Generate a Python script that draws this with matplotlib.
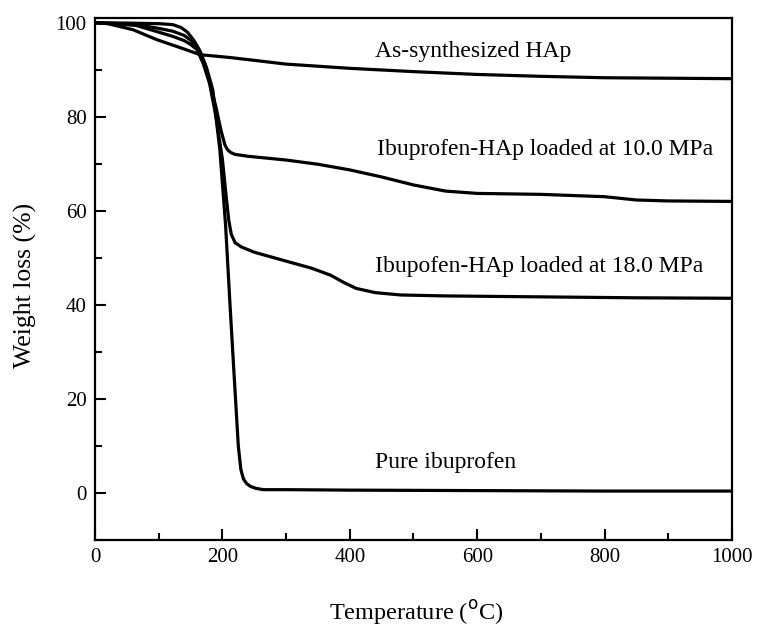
import matplotlib
matplotlib.use("Agg")
import matplotlib.pyplot as plt
from matplotlib.ticker import MultipleLocator

plt.rcParams['font.family'] = ['Liberation Serif', 'DejaVu Serif']

# As-synthesized HAp
hap_T = [0, 20, 60, 97, 138, 165, 212, 250, 300, 400, 500, 600, 700, 800, 900, 1000]
hap_W = [100, 99.8, 98.5, 96.4, 94.5, 93.2, 92.6, 92.0, 91.2, 90.3, 89.6, 89.0, 88.6, 88.3, 88.2, 88.1]

# Ibuprofen-HAp loaded at 10.0 MPa
m10_T = [0, 40, 65, 100, 122, 140, 150, 160, 170, 180, 190, 198, 204, 208, 213, 220, 240, 300, 350, 400, 450, 500, 550, 600, 700, 800, 850, 900, 1000]
m10_W = [100, 99.8, 99.6, 98.8, 98.2, 97.3, 96.3, 94.8, 91.8, 87.5, 82.0, 77.0, 74.0, 73.0, 72.4, 72.0, 71.6, 70.8, 69.9, 68.7, 67.2, 65.5, 64.2, 63.7, 63.5, 63.0, 62.3, 62.1, 62.0]

# Ibupofen-HAp loaded at 18.0 MPa
m18_T = [0, 40, 65, 100, 122, 140, 150, 160, 170, 180, 190, 200, 206, 210, 214, 220, 230, 250, 300, 340, 370, 390, 410, 440, 480, 550, 700, 850, 1000]
m18_W = [100, 99.7, 99.4, 98.0, 97.1, 96.2, 95.4, 94.3, 91.3, 87.0, 80.0, 71.0, 63.0, 58.0, 55.0, 53.2, 52.3, 51.2, 49.3, 47.8, 46.3, 44.8, 43.5, 42.6, 42.1, 41.9, 41.7, 41.5, 41.4]

# Pure ibuprofen
pure_T = [0, 60, 100, 122, 135, 145, 155, 165, 175, 185, 196, 205, 212, 218, 225, 229, 233, 238, 244, 252, 264, 300, 400, 600, 800, 1000]
pure_W = [100, 99.9, 99.8, 99.6, 99.0, 98.0, 96.3, 94.0, 90.5, 85.7, 73.0, 57.0, 40.0, 26.0, 10.0, 5.0, 3.0, 2.0, 1.4, 1.0, 0.7, 0.7, 0.6, 0.5, 0.4, 0.4]

labels = ["As-synthesized HAp", "Ibuprofen-HAp loaded at 10.0 MPa",
          "Ibupofen-HAp loaded at 18.0 MPa", "Pure ibuprofen"]
label_T = [440, 443, 440, 440]
label_W = [92.8, 71.9, 47.0, 5.3]

fig = plt.figure(figsize=(7.61, 6.30), dpi=100)
ax = fig.add_axes([0.1248, 0.1429, 0.9619 - 0.1248, 0.9714 - 0.1429])

for T, W in [(hap_T, hap_W), (m10_T, m10_W), (m18_T, m18_W), (pure_T, pure_W)]:
    ax.plot(T, W, color='black', lw=2.3, solid_joinstyle='round', solid_capstyle='round')

for s, t, w in zip(labels, label_T, label_W):
    ax.text(t, w, s, fontsize=17, ha='left', va='baseline')

ax.set_xlim(0, 1000)
ax.set_ylim(-10, 101)
ax.xaxis.set_major_locator(MultipleLocator(200))
ax.xaxis.set_minor_locator(MultipleLocator(100))
ax.yaxis.set_minor_locator(MultipleLocator(10))
ax.set_yticks([0, 20, 40, 60, 80, 100])
ax.tick_params(which='both', direction='in', top=False, right=False, labelsize=15, width=1.5)
ax.tick_params(which='major', length=8, pad=6)
ax.tick_params(which='minor', length=5)
for sp in ax.spines.values():
    sp.set_linewidth(1.6)

ax.set_xlabel("Temperature ($^{\\mathrm{o}}$C)", fontsize=17.5, va='top')
ax.xaxis.set_label_coords(0.505, -0.112)
ax.set_ylabel("Weight loss (%)", fontsize=18.5, va='bottom')
ax.yaxis.set_label_coords(-0.091, 0.487)

fig.savefig("out.png", dpi=100)
